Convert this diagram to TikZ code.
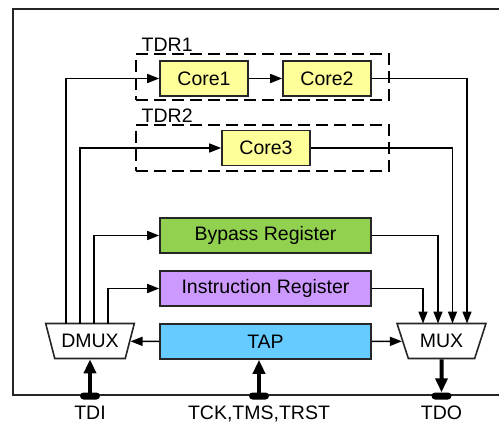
\documentclass[tikz,border=0pt]{standalone}
\usepackage{fontspec}
\setmainfont{Liberation Sans}
\usetikzlibrary{shapes.geometric,arrows.meta,calc}
\definecolor{coreyellow}{HTML}{FFFF99}
\definecolor{bypassgreen}{HTML}{92D050}
\definecolor{instrpurple}{HTML}{CC99FF}
\definecolor{tapblue}{HTML}{66CCFF}
\begin{document}
\begin{tikzpicture}[x=1pt,y=-1pt,
  txt/.style={font=\fontsize{19.5}{22}\selectfont},
  regbox/.style={draw=black!85, line width=1.6pt, minimum height=35pt, inner sep=0pt, txt},
  corebox/.style={regbox, fill=coreyellow, minimum width=88pt},
  longbox/.style={regbox, minimum width=211pt},
  dashbox/.style={draw, line width=1.6pt, dash pattern=on 12pt off 6pt, minimum width=253pt, minimum height=46pt, inner sep=0pt},
  muxbox/.style={trapezium, trapezium angle=61.5, shape border rotate=180, trapezium stretches=true,
     minimum width=89pt, minimum height=35pt, draw=black!85, line width=1.6pt, inner sep=0pt, fill=white, txt},
  conn/.style={line width=1.5pt, -{Triangle[length=12pt,width=9pt]}},
  bigarrow/.style={line width=4pt, -{Triangle[length=14pt,width=12pt]}},
  pad/.style={fill=black, rounded corners=3.5pt, minimum width=20pt, minimum height=7pt, inner sep=0pt},
  pinlabel/.style={txt, anchor=base, inner sep=0pt},
  frame/.style={line width=1.6pt, draw=black!85}]
\useasboundingbox (0,0) rectangle (499,423);
% outer frame
\draw[frame] (499,9) -- (13,9) -- (13,395) -- (499,395);
% TDR groups
\node[dashbox] (tdr1) at (262.5,77) {};
\node[txt, anchor=base west, inner sep=0pt] (tdr1lbl) at (141.5,52) {TDR1};
\node[dashbox] (tdr2) at (262.5,148) {};
\node[txt, anchor=base west, inner sep=0pt] (tdr2lbl) at (141.5,122) {TDR2};
% cores
\node[corebox] (core1) at (204,78.5) {Core1};
\node[corebox] (core2) at (327,78.5) {Core2};
\node[corebox] (core3) at (266,148) {Core3};
% registers
\node[longbox, fill=bypassgreen] (bypass) at (265.5,235.5) {Bypass Register};
\node[longbox, fill=instrpurple] (instr) at (265.5,288.5) {Instruction Register};
\node[longbox, fill=tapblue] (tap) at (265.5,341.5) {TAP};
% muxes
\node[muxbox] (dmux) at (90,341) {DMUX};
\node[muxbox] (mux) at (441.5,341) {MUX};
% pads
\node[pad] (tdipad) at (90,396) {};
\node[pad] (tappad) at (259,396) {};
\node[pad] (tdopad) at (441.5,396) {};
% labels
\node[pinlabel] (tdi) at (90,419) {TDI};
\node[pinlabel] (tck) at (259,419) {TCK,TMS,TRST};
\node[pinlabel] (tdo) at (441.5,419) {TDO};
% DMUX outputs
\draw[conn] ([xshift=-24pt,yshift=17.5pt]dmux.center) |- (core1.west);
\draw[conn] ([xshift=-10pt,yshift=17.5pt]dmux.center) |- (core3.west);
\draw[conn] ([xshift=4pt,yshift=17.5pt]dmux.center) |- (bypass.west);
\draw[conn] ([xshift=18pt,yshift=17.5pt]dmux.center) |- (instr.west);
% chain
\draw[conn] (core1.east) -- (core2.west);
% MUX inputs
\draw[conn] (core2.east) -| ([xshift=25.5pt,yshift=17.5pt]mux.center);
\draw[conn] (core3.east) -| ([xshift=11pt,yshift=17.5pt]mux.center);
\draw[conn] (bypass.east) -| ([xshift=-3.5pt,yshift=17.5pt]mux.center);
\draw[conn] (instr.east) -| ([xshift=-18.5pt,yshift=17.5pt]mux.center);
% TAP controls
\draw[conn] (tap.west) -- (dmux);
\draw[conn] (tap.east) -- (mux);
% pins
\draw[bigarrow] (tdipad.center) -- (dmux);
\draw[bigarrow] (tappad.center) -- (tappad.center |- tap.south);
\draw[bigarrow] (mux) -- (tdopad.north);
\end{tikzpicture}
\end{document}
